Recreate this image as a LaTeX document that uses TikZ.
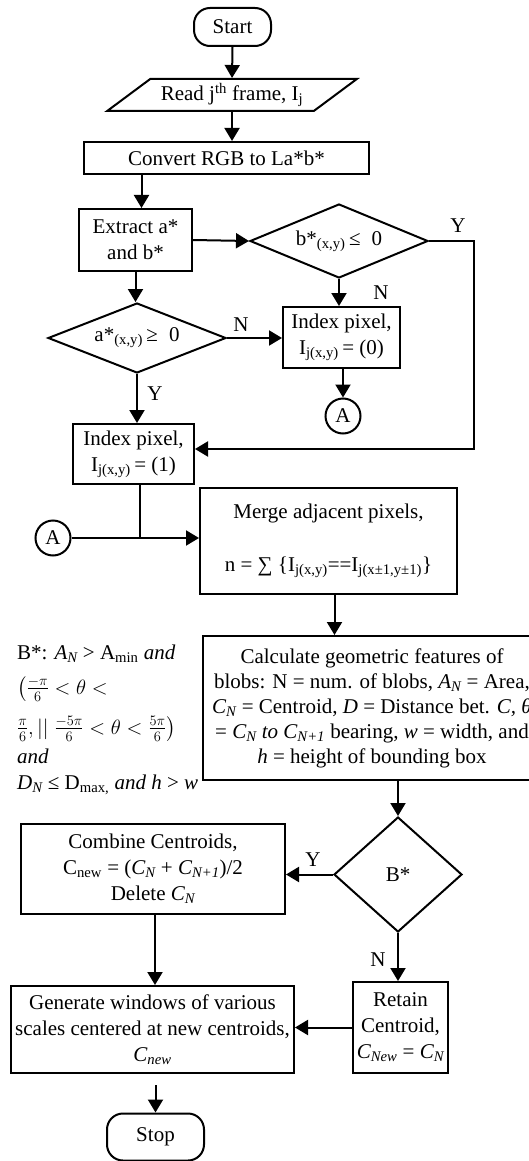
\documentclass[tikz,border=0pt]{standalone}
\usepackage{amsmath}
\usepackage{fontspec}
\setmainfont{Liberation Serif}
\usetikzlibrary{shapes.geometric,arrows.meta}
\begin{document}
\begin{tikzpicture}[x=1pt,y=-1pt,
  every node/.style={font=\fontsize{21}{26}\selectfont, inner sep=0pt, text=black},
  box/.style 2 args={draw, line width=2pt, minimum width=#1, minimum height=#2, align=center},
  dia/.style 2 args={draw, diamond, line width=2pt, minimum width=#1, minimum height=#2},
  term/.style 2 args={draw, rounded corners=16pt, line width=2pt, minimum width=#1, minimum height=#2},
  conn/.style={draw, circle, line width=2pt, minimum size=35pt},
  arr/.style={line width=2pt, -{Triangle[length=13pt,width=15pt]}},
  plain/.style={line width=2pt},
  lbl/.style={},
  cond/.style={anchor=base west}
]
\useasboundingbox (0,0) rectangle (528,1161);

% nodes
\node[term={77pt}{38pt}] (start) at (232.5,27) {Start};
\node[draw, trapezium, trapezium left angle=32.6, trapezium right angle=147.4,
      trapezium stretches=true, minimum width=250pt, minimum height=32pt,
      line width=2pt] (read) at (232,95) {Read j\textsuperscript{th} frame, I\textsubscript{j}};
\node[box={285pt}{32pt}] (conv) at (226.5,158) {Convert RGB to La*b*};
\node[box={113pt}{62pt}] (extract) at (135.5,240) {Extract a*\\and b*};
\node[dia={178pt}{74pt}, label={center:b*\textsubscript{(x,y)}\,≤\; 0}] (bdia) at (339,241) {};
\node[box={117pt}{61pt}] (idx0) at (341.5,337.5) {Index pixel,\\I\textsubscript{j(x,y)}\,= (0)};
\node[conn] (a1) at (343,416) {A};
\node[dia={178pt}{70pt}, label={center:a*\textsubscript{(x,y)}\,≥\; 0}] (adia) at (137,338) {};
\node[box={121pt}{60pt}] (idx1) at (133.5,454) {Index pixel,\\I\textsubscript{j(x,y)}\,= (1)};
\node[conn] (a2) at (53,538) {A};
\node[box={257pt}{106pt}] (merge) at (328.5,541)
  {Merge adjacent pixels,\\[27pt]
   n = ∑ \{I\textsubscript{j(x,y)}==I\textsubscript{j(x±1,y±1)}\}};
\node[box={338pt}{144pt}, font=\fontsize{21}{25}\selectfont] (calc) at (372,708)
  {Calculate geometric features of\\
   blobs: N = num. of blobs, \textit{A\textsubscript{N}} = Area,\\
   \textit{C\textsubscript{N}} = Centroid, \textit{D} = Distance bet. \textit{C, θ}\\
   = \textit{C\textsubscript{N} to C\textsubscript{N+1}} bearing, \textit{w} = width, and\\
   \textit{h} = height of bounding box};

% condition text
\node[cond] (b1) at (17,659) {B*: \textit{A\textsubscript{N}} > A\textsubscript{min} \textit{and}};
\node[cond] (b2) at (17,694) {$\bigl(\frac{-\pi}{6} < \theta <$};
\node[cond] (b3) at (17,734) {$\frac{\pi}{6},||\;\frac{-5\pi}{6} < \theta < \frac{5\pi}{6}\bigr)$};
\node[cond] (b4) at (17,763) {\textit{and}};
\node[cond] (b5) at (17,789) {\textit{D\textsubscript{N}} ≤ D\textsubscript{max,} \textit{and h} > \textit{w}};

\node[dia={128pt}{115pt}, label={center:B*}] (bsdia) at (398,874.5) {};
\node[box={264pt}{90pt}] (combine) at (153,869)
  {Combine Centroids,\\
   C\textsubscript{new} = (\textit{C\textsubscript{N}} + \textit{C\textsubscript{N+1}})/2\\
   Delete \textit{C\textsubscript{N}}};
\node[box={283pt}{87pt}] (gen) at (152.5,1029.5)
  {Generate windows of various\\
   scales centered at new centroids,\\
   \textit{C\textsubscript{new}}};
\node[box={95pt}{91pt}] (retain) at (400.5,1027.5)
  {Retain\\Centroid,\\\textit{C\textsubscript{New}} = \textit{C\textsubscript{N}}};
\node[term={97pt}{47pt}] (stop) at (155.5,1137) {Stop};

% edge labels
\node[lbl] (ly1) at (458,226) {Y};
\node[lbl] (ln1) at (381,293) {N};
\node[lbl] (ln2) at (241,325) {N};
\node[lbl] (ly2) at (155,394) {Y};
\node[lbl] (ly3) at (313,860) {Y};
\node[lbl] (ln3) at (378,960) {N};

% connectors
\draw[arr] (start.south) -- (read.north);
\draw[arr] (read.south) -- (read.south |- conv.north);
\draw[arr] ([xshift=6pt]extract.north |- conv.south) -- ([xshift=6pt]extract.north);
\draw[arr] (extract.east) -- (bdia.west);
\draw[arr] (bdia.south) -- (bdia.south |- idx0.north);
\draw[arr] (a1.north |- idx0.south) -- (a1.north);
\draw[arr] (extract.south) -- (extract.south |- adia.north);
\draw[arr] (adia.east) -- (adia.east -| idx0.west);
\draw[arr] (adia.south) -- (adia.south |- idx1.north);
\draw[arr] (bdia.east) -- ++(45,0) |- ([yshift=5pt]idx1.east);
\draw[plain] ([xshift=6pt]idx1.south) -- ([xshift=6pt]idx1.south |- a2.east);
\draw[arr] (a2.east) -- (a2.east -| merge.west);
\draw[arr] ([xshift=6pt]merge.south) -- ([xshift=6pt]merge.south |- calc.north);
\draw[arr] (bsdia.north |- calc.south) -- (bsdia.north);
\draw[arr] (bsdia.west) -- (bsdia.west -| combine.east);
\draw[arr] ([xshift=2pt]combine.south) -- ([xshift=2pt]combine.south |- gen.north);
\draw[arr] (bsdia.south) -- (bsdia.south |- retain.north);
\draw[arr] (retain.west) -- (retain.west -| gen.east);
\draw[arr] ([yshift=-11pt]gen.south -| stop.north) -- (stop.north);
\end{tikzpicture}
\end{document}
